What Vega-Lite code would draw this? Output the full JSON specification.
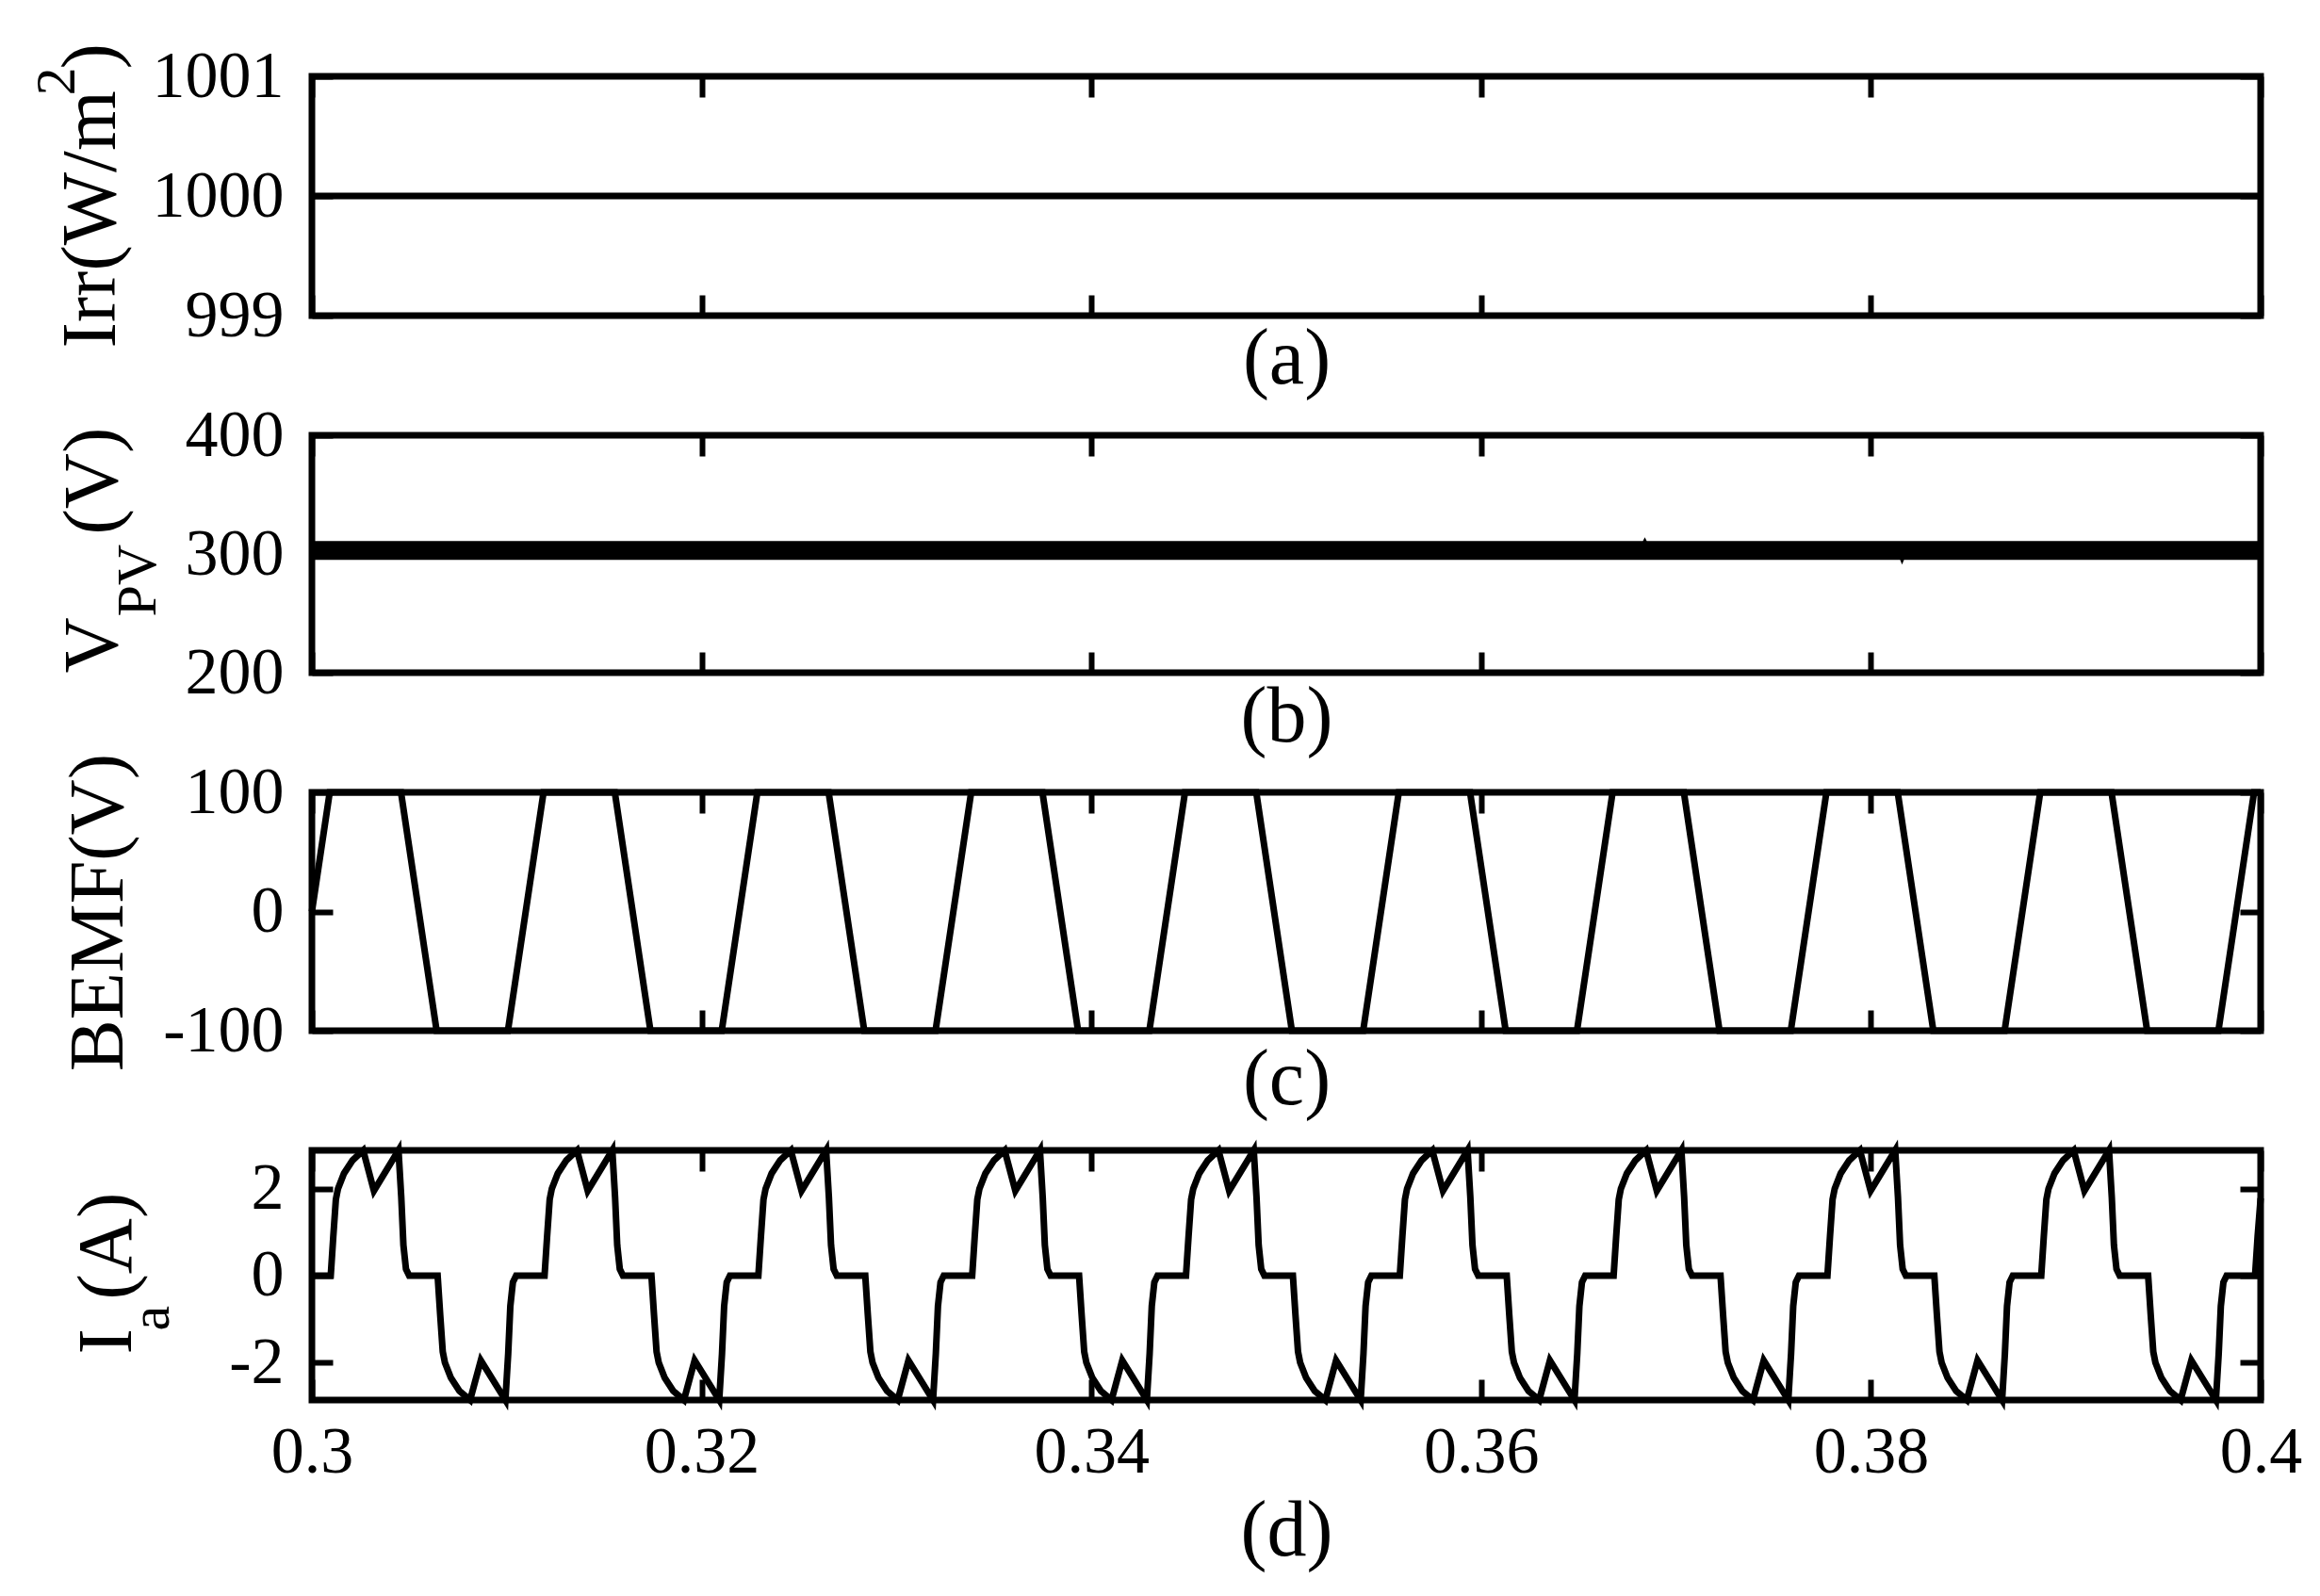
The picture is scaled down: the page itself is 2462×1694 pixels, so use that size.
{
"$schema":"https://vega.github.io/schema/vega-lite/v6.json",
"background":"white",
"padding":{"left":26,"top":42,"right":5,"bottom":5},
"bounds":"flush",
"spacing":127,
"config":{
 "view":{"stroke":"black","strokeWidth":7,"fill":"white"},
 "axis":{"grid":false,"domain":false,"tickColor":"black","tickWidth":6,"tickSize":-22,"labelFont":"Liberation Serif","labelFontSize":70,"labelColor":"black","labelPadding":52,"labelFlush":false,"labelOverlap":false,"titleFont":"Liberation Serif","titleFontSize":82,"titleFontWeight":"normal","titleColor":"black"}
},
"datasets":{
 "irr":[{"t":0.3,"v":1000},{"t":0.4,"v":1000}],
 "vpv":[{"t":0.3,"lo":295,"hi":311},{"t":0.3683,"lo":295,"hi":311},{"t":0.3684,"lo":295,"hi":314},{"t":0.3685,"lo":295,"hi":311},{"t":0.3815,"lo":295,"hi":311},{"t":0.3816,"lo":291,"hi":311},{"t":0.3817,"lo":295,"hi":311},{"t":0.4,"lo":295,"hi":311}],
 "bemf":[{"t":0.3,"v":0},
  {"t":0.300914,"v":100},{"t":0.304572,"v":100},{"t":0.3064,"v":-100},
  {"t":0.310058,"v":-100},{"t":0.311886,"v":100},{"t":0.315544,"v":100},{"t":0.317372,"v":-100},
  {"t":0.32103,"v":-100},{"t":0.322858,"v":100},{"t":0.326516,"v":100},{"t":0.328344,"v":-100},
  {"t":0.332002,"v":-100},{"t":0.33383,"v":100},{"t":0.337488,"v":100},{"t":0.339316,"v":-100},
  {"t":0.342974,"v":-100},{"t":0.344802,"v":100},{"t":0.34846,"v":100},{"t":0.350288,"v":-100},
  {"t":0.353946,"v":-100},{"t":0.355774,"v":100},{"t":0.359432,"v":100},{"t":0.36126,"v":-100},
  {"t":0.364918,"v":-100},{"t":0.366746,"v":100},{"t":0.370404,"v":100},{"t":0.372232,"v":-100},
  {"t":0.37589,"v":-100},{"t":0.377718,"v":100},{"t":0.381376,"v":100},{"t":0.383204,"v":-100},
  {"t":0.386862,"v":-100},{"t":0.38869,"v":100},{"t":0.392348,"v":100},{"t":0.394176,"v":-100},
  {"t":0.397834,"v":-100},{"t":0.399662,"v":100},{"t":0.4,"v":100}],
 "ia":[{"t":0.3,"v":0},
  {"t":0.300966,"v":0},{"t":0.301097,"v":0.9},{"t":0.301229,"v":1.75},{"t":0.301339,"v":2.0},{"t":0.301646,"v":2.35},{"t":0.302085,"v":2.65},{"t":0.302633,"v":2.88},{"t":0.303182,"v":1.95},{"t":0.304444,"v":2.88},{"t":0.304586,"v":1.8},{"t":0.304696,"v":0.7},{"t":0.304828,"v":0.15},{"t":0.304992,"v":0},
  {"t":0.306452,"v":0},{"t":0.306583,"v":-0.9},{"t":0.306715,"v":-1.75},{"t":0.306825,"v":-2.0},{"t":0.307132,"v":-2.35},{"t":0.307571,"v":-2.65},{"t":0.308119,"v":-2.86},{"t":0.308668,"v":-1.95},{"t":0.30993,"v":-2.86},{"t":0.310072,"v":-1.8},{"t":0.310182,"v":-0.7},{"t":0.310314,"v":-0.15},{"t":0.310478,"v":0},
  {"t":0.311938,"v":0},{"t":0.312069,"v":0.9},{"t":0.312201,"v":1.75},{"t":0.312311,"v":2.0},{"t":0.312618,"v":2.35},{"t":0.313057,"v":2.65},{"t":0.313605,"v":2.88},{"t":0.314154,"v":1.95},{"t":0.315416,"v":2.88},{"t":0.315558,"v":1.8},{"t":0.315668,"v":0.7},{"t":0.3158,"v":0.15},{"t":0.315964,"v":0},
  {"t":0.317424,"v":0},{"t":0.317555,"v":-0.9},{"t":0.317687,"v":-1.75},{"t":0.317797,"v":-2.0},{"t":0.318104,"v":-2.35},{"t":0.318543,"v":-2.65},{"t":0.319091,"v":-2.86},{"t":0.31964,"v":-1.95},{"t":0.320902,"v":-2.86},{"t":0.321044,"v":-1.8},{"t":0.321154,"v":-0.7},{"t":0.321286,"v":-0.15},{"t":0.32145,"v":0},
  {"t":0.32291,"v":0},{"t":0.323041,"v":0.9},{"t":0.323173,"v":1.75},{"t":0.323283,"v":2.0},{"t":0.32359,"v":2.35},{"t":0.324029,"v":2.65},{"t":0.324577,"v":2.88},{"t":0.325126,"v":1.95},{"t":0.326388,"v":2.88},{"t":0.32653,"v":1.8},{"t":0.32664,"v":0.7},{"t":0.326772,"v":0.15},{"t":0.326936,"v":0},
  {"t":0.328396,"v":0},{"t":0.328527,"v":-0.9},{"t":0.328659,"v":-1.75},{"t":0.328769,"v":-2.0},{"t":0.329076,"v":-2.35},{"t":0.329515,"v":-2.65},{"t":0.330063,"v":-2.86},{"t":0.330612,"v":-1.95},{"t":0.331874,"v":-2.86},{"t":0.332016,"v":-1.8},{"t":0.332126,"v":-0.7},{"t":0.332258,"v":-0.15},{"t":0.332422,"v":0},
  {"t":0.333882,"v":0},{"t":0.334013,"v":0.9},{"t":0.334145,"v":1.75},{"t":0.334255,"v":2.0},{"t":0.334562,"v":2.35},{"t":0.335001,"v":2.65},{"t":0.335549,"v":2.88},{"t":0.336098,"v":1.95},{"t":0.33736,"v":2.88},{"t":0.337502,"v":1.8},{"t":0.337612,"v":0.7},{"t":0.337744,"v":0.15},{"t":0.337908,"v":0},
  {"t":0.339368,"v":0},{"t":0.339499,"v":-0.9},{"t":0.339631,"v":-1.75},{"t":0.339741,"v":-2.0},{"t":0.340048,"v":-2.35},{"t":0.340487,"v":-2.65},{"t":0.341035,"v":-2.86},{"t":0.341584,"v":-1.95},{"t":0.342846,"v":-2.86},{"t":0.342988,"v":-1.8},{"t":0.343098,"v":-0.7},{"t":0.34323,"v":-0.15},{"t":0.343394,"v":0},
  {"t":0.344854,"v":0},{"t":0.344985,"v":0.9},{"t":0.345117,"v":1.75},{"t":0.345227,"v":2.0},{"t":0.345534,"v":2.35},{"t":0.345973,"v":2.65},{"t":0.346521,"v":2.88},{"t":0.34707,"v":1.95},{"t":0.348332,"v":2.88},{"t":0.348474,"v":1.8},{"t":0.348584,"v":0.7},{"t":0.348716,"v":0.15},{"t":0.34888,"v":0},
  {"t":0.35034,"v":0},{"t":0.350471,"v":-0.9},{"t":0.350603,"v":-1.75},{"t":0.350713,"v":-2.0},{"t":0.35102,"v":-2.35},{"t":0.351459,"v":-2.65},{"t":0.352007,"v":-2.86},{"t":0.352556,"v":-1.95},{"t":0.353818,"v":-2.86},{"t":0.35396,"v":-1.8},{"t":0.35407,"v":-0.7},{"t":0.354202,"v":-0.15},{"t":0.354366,"v":0},
  {"t":0.355826,"v":0},{"t":0.355957,"v":0.9},{"t":0.356089,"v":1.75},{"t":0.356199,"v":2.0},{"t":0.356506,"v":2.35},{"t":0.356945,"v":2.65},{"t":0.357493,"v":2.88},{"t":0.358042,"v":1.95},{"t":0.359304,"v":2.88},{"t":0.359446,"v":1.8},{"t":0.359556,"v":0.7},{"t":0.359688,"v":0.15},{"t":0.359852,"v":0},
  {"t":0.361312,"v":0},{"t":0.361443,"v":-0.9},{"t":0.361575,"v":-1.75},{"t":0.361685,"v":-2.0},{"t":0.361992,"v":-2.35},{"t":0.362431,"v":-2.65},{"t":0.362979,"v":-2.86},{"t":0.363528,"v":-1.95},{"t":0.36479,"v":-2.86},{"t":0.364932,"v":-1.8},{"t":0.365042,"v":-0.7},{"t":0.365174,"v":-0.15},{"t":0.365338,"v":0},
  {"t":0.366798,"v":0},{"t":0.366929,"v":0.9},{"t":0.367061,"v":1.75},{"t":0.367171,"v":2.0},{"t":0.367478,"v":2.35},{"t":0.367917,"v":2.65},{"t":0.368465,"v":2.88},{"t":0.369014,"v":1.95},{"t":0.370276,"v":2.88},{"t":0.370418,"v":1.8},{"t":0.370528,"v":0.7},{"t":0.37066,"v":0.15},{"t":0.370824,"v":0},
  {"t":0.372284,"v":0},{"t":0.372415,"v":-0.9},{"t":0.372547,"v":-1.75},{"t":0.372657,"v":-2.0},{"t":0.372964,"v":-2.35},{"t":0.373403,"v":-2.65},{"t":0.373951,"v":-2.86},{"t":0.3745,"v":-1.95},{"t":0.375762,"v":-2.86},{"t":0.375904,"v":-1.8},{"t":0.376014,"v":-0.7},{"t":0.376146,"v":-0.15},{"t":0.37631,"v":0},
  {"t":0.37777,"v":0},{"t":0.377901,"v":0.9},{"t":0.378033,"v":1.75},{"t":0.378143,"v":2.0},{"t":0.37845,"v":2.35},{"t":0.378889,"v":2.65},{"t":0.379437,"v":2.88},{"t":0.379986,"v":1.95},{"t":0.381248,"v":2.88},{"t":0.38139,"v":1.8},{"t":0.3815,"v":0.7},{"t":0.381632,"v":0.15},{"t":0.381796,"v":0},
  {"t":0.383256,"v":0},{"t":0.383387,"v":-0.9},{"t":0.383519,"v":-1.75},{"t":0.383629,"v":-2.0},{"t":0.383936,"v":-2.35},{"t":0.384375,"v":-2.65},{"t":0.384923,"v":-2.86},{"t":0.385472,"v":-1.95},{"t":0.386734,"v":-2.86},{"t":0.386876,"v":-1.8},{"t":0.386986,"v":-0.7},{"t":0.387118,"v":-0.15},{"t":0.387282,"v":0},
  {"t":0.388742,"v":0},{"t":0.388873,"v":0.9},{"t":0.389005,"v":1.75},{"t":0.389115,"v":2.0},{"t":0.389422,"v":2.35},{"t":0.389861,"v":2.65},{"t":0.390409,"v":2.88},{"t":0.390958,"v":1.95},{"t":0.39222,"v":2.88},{"t":0.392362,"v":1.8},{"t":0.392472,"v":0.7},{"t":0.392604,"v":0.15},{"t":0.392768,"v":0},
  {"t":0.394228,"v":0},{"t":0.394359,"v":-0.9},{"t":0.394491,"v":-1.75},{"t":0.394601,"v":-2.0},{"t":0.394908,"v":-2.35},{"t":0.395347,"v":-2.65},{"t":0.395895,"v":-2.86},{"t":0.396444,"v":-1.95},{"t":0.397706,"v":-2.86},{"t":0.397848,"v":-1.8},{"t":0.397958,"v":-0.7},{"t":0.39809,"v":-0.15},{"t":0.398254,"v":0},
  {"t":0.399714,"v":0},{"t":0.399845,"v":0.9},{"t":0.4,"v":1.78}]
},
"vconcat":[
 {"width":2068,"height":254,"data":{"name":"irr"},
  "layer":[
   {"mark":{"type":"line","color":"black","strokeWidth":7},
    "encoding":{
     "x":{"field":"t","type":"quantitative","scale":{"domain":[0.3,0.4],"nice":false,"zero":false},"axis":{"orient":"bottom","values":[0.3,0.32,0.34,0.36,0.38,0.4],"labels":false,"title":"(a)","titleFontSize":84,"titleX":1034,"titleY":46,"titleAlign":"center","titleBaseline":"middle","titleAngle":0}},
     "y":{"field":"v","type":"quantitative","scale":{"domain":[999,1001],"nice":false,"zero":false},"axis":{"orient":"left","values":[999,1000,1001],"labelExpr":"toString(datum.value)","labelOverlap":false,"labelBaseline":"middle","labelAlign":"right","title":"Irr(W/m","titleX":-210,"titleY":288,"titleAlign":"left","titleBaseline":"alphabetic","titleAngle":270}}}},
   {"mark":{"type":"line","opacity":0},
    "encoding":{
     "x":{"field":"t","type":"quantitative","scale":{"domain":[0.3,0.4],"nice":false,"zero":false},"axis":{"orient":"top","values":[0.3,0.32,0.34,0.36,0.38,0.4],"labels":false,"title":null}},
     "y":{"field":"v","type":"quantitative","scale":{"domain":[999,1001],"nice":false,"zero":false},"axis":{"orient":"right","values":[999,1000,1001],"labels":false,"title":null}}}},
   {"mark":{"type":"line","opacity":0},
    "encoding":{
     "x":{"field":"t","type":"quantitative","axis":null},
     "y":{"field":"v","type":"quantitative","axis":{"orient":"left","ticks":false,"labels":false,"title":"2","titleFontSize":60,"titleX":-253,"titleY":20,"titleAlign":"left","titleBaseline":"alphabetic","titleAngle":270}}}},
   {"mark":{"type":"line","opacity":0},
    "encoding":{
     "x":{"field":"t","type":"quantitative","axis":null},
     "y":{"field":"v","type":"quantitative","axis":{"orient":"left","ticks":false,"labels":false,"title":")","titleX":-210,"titleY":-8,"titleAlign":"left","titleBaseline":"alphabetic","titleAngle":270}}}}
  ],
  "resolve":{"axis":{"x":"independent","y":"independent"}}},
 {"width":2068,"height":252,"data":{"name":"vpv"},
  "layer":[
   {"mark":{"type":"area","color":"black"},
    "encoding":{
     "x":{"field":"t","type":"quantitative","scale":{"domain":[0.3,0.4],"nice":false,"zero":false},"axis":{"orient":"bottom","values":[0.3,0.32,0.34,0.36,0.38,0.4],"labels":false,"title":"(b)","titleFontSize":84,"titleX":1034,"titleY":47,"titleAlign":"center","titleBaseline":"middle","titleAngle":0}},
     "y":{"field":"hi","type":"quantitative","scale":{"domain":[200,400],"nice":false,"zero":false},"axis":{"orient":"left","values":[200,300,400],"labelExpr":"toString(datum.value)","labelBaseline":"middle","labelAlign":"right","title":"V","titleX":-208,"titleY":252,"titleAlign":"left","titleBaseline":"alphabetic","titleAngle":270}},
     "y2":{"field":"lo"}}},
   {"mark":{"type":"line","opacity":0},
    "encoding":{
     "x":{"field":"t","type":"quantitative","scale":{"domain":[0.3,0.4],"nice":false,"zero":false},"axis":{"orient":"top","values":[0.3,0.32,0.34,0.36,0.38,0.4],"labels":false,"title":null}},
     "y":{"field":"hi","type":"quantitative","scale":{"domain":[200,400],"nice":false,"zero":false},"axis":{"orient":"right","values":[200,300,400],"labels":false,"title":null}}}},
   {"mark":{"type":"line","opacity":0},
    "encoding":{
     "x":{"field":"t","type":"quantitative","axis":null},
     "y":{"field":"hi","type":"quantitative","axis":{"orient":"left","ticks":false,"labels":false,"title":"PV","titleFontSize":60,"titleX":-167,"titleY":192,"titleAlign":"left","titleBaseline":"alphabetic","titleAngle":270}}}},
   {"mark":{"type":"line","opacity":0},
    "encoding":{
     "x":{"field":"t","type":"quantitative","axis":null},
     "y":{"field":"hi","type":"quantitative","axis":{"orient":"left","ticks":false,"labels":false,"title":"(V)","titleX":-208,"titleY":105,"titleAlign":"left","titleBaseline":"alphabetic","titleAngle":270}}}}
  ],
  "resolve":{"axis":{"x":"independent","y":"independent"}}},
 {"width":2068,"height":253,"data":{"name":"bemf"},
  "layer":[
   {"mark":{"type":"line","color":"black","strokeWidth":7},
    "encoding":{
     "x":{"field":"t","type":"quantitative","scale":{"domain":[0.3,0.4],"nice":false,"zero":false},"axis":{"orient":"bottom","values":[0.3,0.32,0.34,0.36,0.38,0.4],"labels":false,"title":"(c)","titleFontSize":84,"titleX":1034,"titleY":52,"titleAlign":"center","titleBaseline":"middle","titleAngle":0}},
     "y":{"field":"v","type":"quantitative","scale":{"domain":[-100,100],"nice":false,"zero":false},"axis":{"orient":"left","values":[-100,0,100],"labelExpr":"toString(datum.value)","labelBaseline":"middle","labelAlign":"right","title":"BEMF(V)","titleX":-202,"titleY":127,"titleAlign":"center","titleBaseline":"alphabetic","titleAngle":270}}}},
   {"mark":{"type":"line","opacity":0},
    "encoding":{
     "x":{"field":"t","type":"quantitative","scale":{"domain":[0.3,0.4],"nice":false,"zero":false},"axis":{"orient":"top","values":[0.3,0.32,0.34,0.36,0.38,0.4],"labels":false,"title":null}},
     "y":{"field":"v","type":"quantitative","scale":{"domain":[-100,100],"nice":false,"zero":false},"axis":{"orient":"right","values":[-100,0,100],"labels":false,"title":null}}}}
  ],
  "resolve":{"axis":{"x":"independent","y":"independent"}}},
 {"width":2068,"height":265,"data":{"name":"ia"},
  "layer":[
   {"mark":{"type":"line","color":"black","strokeWidth":7},
    "encoding":{
     "x":{"field":"t","type":"quantitative","scale":{"domain":[0.3,0.4],"nice":false,"zero":false},"axis":{"orient":"bottom","values":[0.3,0.32,0.34,0.36,0.38,0.4],"format":"~g","labelBaseline":"middle","labelAlign":"center","labelPadding":77,"title":"(d)","titleFontSize":84,"titleX":1034,"titleY":139,"titleAlign":"center","titleBaseline":"middle","titleAngle":0}},
     "y":{"field":"v","type":"quantitative","scale":{"domain":[-2.86,2.88],"nice":false,"zero":false},"axis":{"orient":"left","values":[-2,0,2],"labelExpr":"toString(datum.value)","labelBaseline":"middle","labelAlign":"right","title":"I","titleX":-193,"titleY":216,"titleAlign":"left","titleBaseline":"alphabetic","titleAngle":270}}}},
   {"mark":{"type":"line","opacity":0},
    "encoding":{
     "x":{"field":"t","type":"quantitative","scale":{"domain":[0.3,0.4],"nice":false,"zero":false},"axis":{"orient":"top","values":[0.3,0.32,0.34,0.36,0.38,0.4],"labels":false,"title":null}},
     "y":{"field":"v","type":"quantitative","scale":{"domain":[-2.86,2.88],"nice":false,"zero":false},"axis":{"orient":"right","values":[-2,0,2],"labels":false,"title":null}}}},
   {"mark":{"type":"line","opacity":0},
    "encoding":{
     "x":{"field":"t","type":"quantitative","axis":null},
     "y":{"field":"v","type":"quantitative","axis":{"orient":"left","ticks":false,"labels":false,"title":"a","titleFontSize":60,"titleX":-153,"titleY":191,"titleAlign":"left","titleBaseline":"alphabetic","titleAngle":270}}}},
   {"mark":{"type":"line","opacity":0},
    "encoding":{
     "x":{"field":"t","type":"quantitative","axis":null},
     "y":{"field":"v","type":"quantitative","axis":{"orient":"left","ticks":false,"labels":false,"title":"(A)","titleX":-193,"titleY":158,"titleAlign":"left","titleBaseline":"alphabetic","titleAngle":270}}}}
  ],
  "resolve":{"axis":{"x":"independent","y":"independent"}}}
]
}
